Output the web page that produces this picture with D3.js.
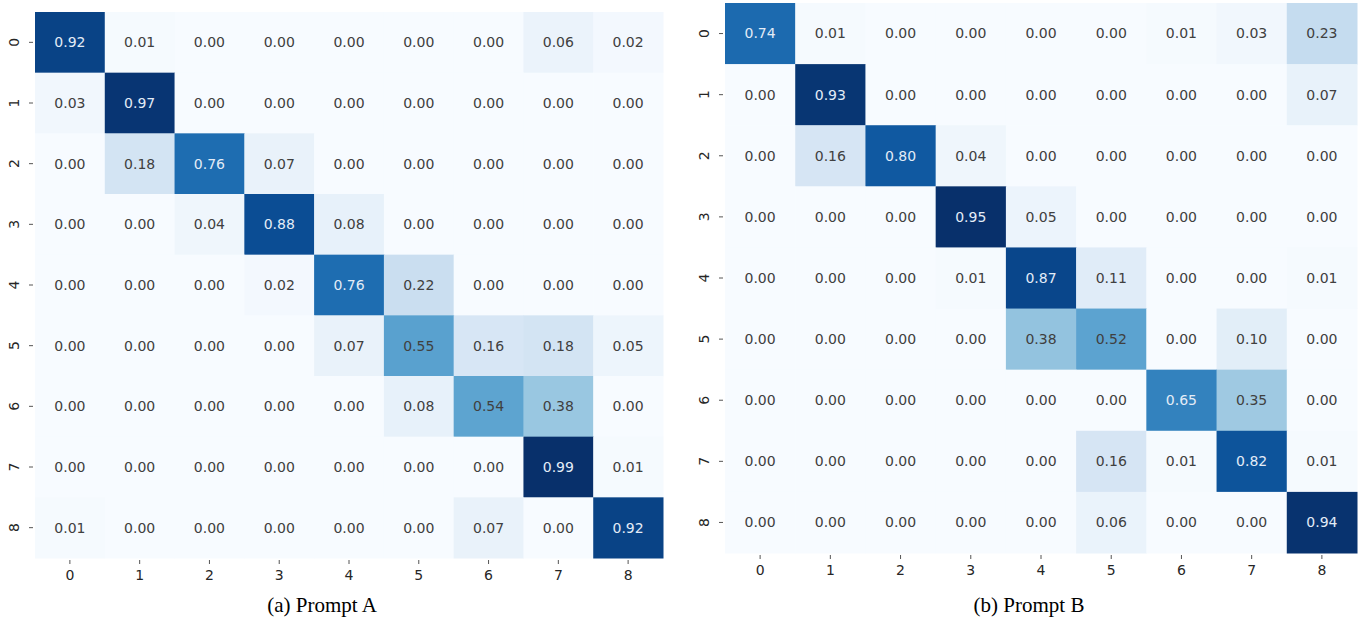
<!DOCTYPE html>
<html>
<head>
<meta charset="utf-8">
<script src="https://cdn.jsdelivr.net/npm/d3@7"></script>
<style>
  body { margin: 0; background: #fff; }
</style>
</head>
<body>
<script>
// two confusion matrices, side by side
var w = 1364;
var h = 620;

var classes = ["0", "1", "2", "3", "4", "5", "6", "7", "8"];

var promptA = [
  [0.92, 0.01, 0.00, 0.00, 0.00, 0.00, 0.00, 0.06, 0.02],
  [0.03, 0.97, 0.00, 0.00, 0.00, 0.00, 0.00, 0.00, 0.00],
  [0.00, 0.18, 0.76, 0.07, 0.00, 0.00, 0.00, 0.00, 0.00],
  [0.00, 0.00, 0.04, 0.88, 0.08, 0.00, 0.00, 0.00, 0.00],
  [0.00, 0.00, 0.00, 0.02, 0.76, 0.22, 0.00, 0.00, 0.00],
  [0.00, 0.00, 0.00, 0.00, 0.07, 0.55, 0.16, 0.18, 0.05],
  [0.00, 0.00, 0.00, 0.00, 0.00, 0.08, 0.54, 0.38, 0.00],
  [0.00, 0.00, 0.00, 0.00, 0.00, 0.00, 0.00, 0.99, 0.01],
  [0.01, 0.00, 0.00, 0.00, 0.00, 0.00, 0.07, 0.00, 0.92]
];

var promptB = [
  [0.74, 0.01, 0.00, 0.00, 0.00, 0.00, 0.01, 0.03, 0.23],
  [0.00, 0.93, 0.00, 0.00, 0.00, 0.00, 0.00, 0.00, 0.07],
  [0.00, 0.16, 0.80, 0.04, 0.00, 0.00, 0.00, 0.00, 0.00],
  [0.00, 0.00, 0.00, 0.95, 0.05, 0.00, 0.00, 0.00, 0.00],
  [0.00, 0.00, 0.00, 0.01, 0.87, 0.11, 0.00, 0.00, 0.01],
  [0.00, 0.00, 0.00, 0.00, 0.38, 0.52, 0.00, 0.10, 0.00],
  [0.00, 0.00, 0.00, 0.00, 0.00, 0.00, 0.65, 0.35, 0.00],
  [0.00, 0.00, 0.00, 0.00, 0.00, 0.16, 0.01, 0.82, 0.01],
  [0.00, 0.00, 0.00, 0.00, 0.00, 0.06, 0.00, 0.00, 0.94]
];

var captions = ["(a) Prompt A", "(b) Prompt B"];

var svg = d3.select("body")
  .append("svg")
  .attr("width", w)
  .attr("height", h);

// panel boxes (heatmap area), caption centre
var panels = [
  { data: promptA, x0: 35, x1: 663, y0: 12, y1: 558, cap: captions[0], capX: 322 },
  { data: promptB, x0: 725, x1: 1357, y0: 3, y1: 553, cap: captions[1], capX: 1029 }
];

function drawPanel(p) {
  var g = svg.append("g");

  var xScale = d3.scaleBand()
    .domain(classes)
    .range([p.x0, p.x1]);
  var yScale = d3.scaleBand()
    .domain(classes)
    .range([p.y0, p.y1]);

  var flat = [];
  p.data.forEach(function(row, i) {
    row.forEach(function(v, j) {
      flat.push({ r: classes[i], c: classes[j], value: v });
    });
  });

  var color = d3.scaleSequential(d3.interpolateBlues)
    .domain([d3.min(flat, function(d) { return d.value; }),
             d3.max(flat, function(d) { return d.value; })]);

  g.selectAll("rect")
    .data(flat)
    .enter()
    .append("rect")
    .attr("x", function(d) { return xScale(d.c); })
    .attr("y", function(d) { return yScale(d.r); })
    .attr("width", xScale.bandwidth() + 0.5)
    .attr("height", yScale.bandwidth() + 0.5)
    .attr("fill", function(d) { return color(d.value); });

  g.selectAll("text.val")
    .data(flat)
    .enter()
    .append("text")
    .attr("class", "val")
    .text(function(d) { return d.value.toFixed(2); })
    .attr("x", function(d) { return xScale(d.c) + xScale.bandwidth() / 2; })
    .attr("y", function(d) { return yScale(d.r) + yScale.bandwidth() / 2; })
    .attr("dy", "0.35em")
    .attr("text-anchor", "middle")
    .attr("font-family", "DejaVu Sans, sans-serif")
    .attr("font-size", "14px")
    .attr("fill", function(d) {
      var lum = d3.hsl(color(d.value)).l;
      return lum < 0.5 ? "#e3ecf7" : "#404040";
    });

  // x axis
  var xAxis = d3.axisBottom(xScale).tickSize(4).tickPadding(6);
  var gx = g.append("g")
    .attr("transform", "translate(0," + (p.y1 + 2) + ")")
    .call(xAxis);
  gx.select(".domain").remove();
  gx.selectAll("line").attr("stroke", "#555").attr("stroke-width", 1);
  gx.selectAll("text")
    .attr("font-family", "DejaVu Sans, sans-serif")
    .attr("font-size", "14px")
    .attr("fill", "#262626");

  // y axis, labels turned up
  var yAxis = d3.axisLeft(yScale).tickSize(4).tickPadding(6);
  var gy = g.append("g")
    .attr("transform", "translate(" + (p.x0 - 2) + ",0)")
    .call(yAxis);
  gy.select(".domain").remove();
  gy.selectAll("line").attr("stroke", "#555").attr("stroke-width", 1);
  gy.selectAll("text")
    .attr("x", null)
    .attr("dy", null)
    .attr("text-anchor", "middle")
    .attr("transform", "translate(-19,0) rotate(-90)")
    .attr("y", 5)
    .attr("font-family", "DejaVu Sans, sans-serif")
    .attr("font-size", "14px")
    .attr("fill", "#262626");

  svg.append("text")
    .text(p.cap)
    .attr("x", p.capX)
    .attr("y", 612)
    .attr("text-anchor", "middle")
    .attr("font-family", "Liberation Serif, Times New Roman, serif")
    .attr("font-size", "21px")
    .attr("fill", "#000");
}

panels.forEach(drawPanel);
</script>
</body>
</html>
